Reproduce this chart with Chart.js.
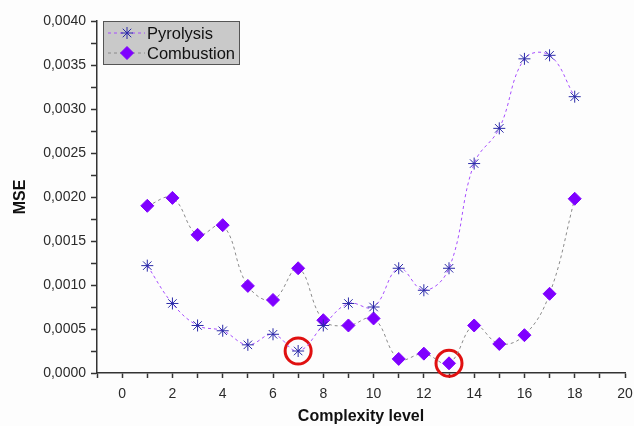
<!DOCTYPE html>
<html>
<head>
<meta charset="utf-8">
<script src="https://cdn.jsdelivr.net/npm/chart.js@4/dist/chart.umd.min.js"></script>
<style>
  html, body { margin: 0; padding: 0; background: #fdfdfd; }
  #wrap { width: 634px; height: 426px; }
</style>
</head>
<body>
<div id="wrap"><canvas id="chart" width="634" height="426"></canvas></div>
<script>
// data
const levels     = [1, 2, 3, 4, 5, 6, 7, 8, 9, 10, 11, 12, 13, 14, 15, 16, 17, 18];
const pyrolysis  = [0.00122, 0.00079, 0.00054, 0.00048, 0.00032, 0.00044, 0.00025, 0.00054, 0.00079,
                    0.00075, 0.00119, 0.00094, 0.00119, 0.00238, 0.00278, 0.00357, 0.00361, 0.00314];
const combustion = [0.00190, 0.00199, 0.00157, 0.00168, 0.00099, 0.00083, 0.00119, 0.00060, 0.00054,
                    0.00062, 0.00016, 0.00022, 0.00011, 0.00054, 0.00033, 0.00043, 0.00090, 0.00198];
// circled minima: [series, level]
const circled    = [['Pyrolysis', 7], ['Combustion', 13]];

const seriesByName = { Pyrolysis: pyrolysis, Combustion: combustion };
const toPoints = (arr) => levels.map((x, i) => ({ x, y: arr[i] }));

const FONT = '"Liberation Sans", Arial, sans-serif';
const TEXT = '#2b2b2b';
const AXIS = '#333';

// legend drawn inside the plot, Origin style
const insideLegend = {
  id: 'insideLegend',
  afterDraw(chart) {
    const { ctx, chartArea } = chart;
    const x0 = chartArea.left + 6, y0 = chartArea.top;
    const w = 136, h = 43;
    ctx.save();
    ctx.fillStyle = '#c9c9c9';
    ctx.fillRect(x0, y0, w, h);
    ctx.strokeStyle = '#555';
    ctx.lineWidth = 1;
    ctx.strokeRect(x0 + 0.5, y0 + 0.5, w, h);

    [0, 1].forEach((di, row) => {
      const ds = chart.data.datasets[di];
      const cy = y0 + 12 + row * 20;
      ctx.strokeStyle = ds.borderColor;
      ctx.lineWidth = 1;
      ctx.setLineDash(ds.borderDash);
      ctx.beginPath();
      ctx.moveTo(x0 + 5, cy);
      ctx.lineTo(x0 + 42, cy);
      ctx.stroke();
      ctx.setLineDash([]);
      ctx.fillStyle = ds.pointBackgroundColor;
      ctx.strokeStyle = ds.pointBorderColor;
      ctx.lineWidth = ds.pointBorderWidth;
      Chart.helpers.drawPoint(ctx, {
        pointStyle: ds.pointStyle, radius: ds.pointRadius, rotation: 0, borderWidth: ds.pointBorderWidth,
      }, x0 + 24, cy);
      ctx.fillStyle = '#111';
      ctx.font = '16.5px ' + FONT;
      ctx.textBaseline = 'middle';
      ctx.fillText(ds.label, x0 + 44, cy + 1);
    });
    ctx.restore();
  },
};

new Chart(document.getElementById('chart'), {
  type: 'line',
  data: {
    datasets: [
      {
        label: 'Pyrolysis',
        data: toPoints(pyrolysis),
        borderColor: '#a64dff',
        borderWidth: 1,
        borderDash: [3, 3],
        tension: 0.4,
        pointStyle: 'star',
        pointRadius: 6,
        pointBorderWidth: 1,
        pointBorderColor: '#2a2aa8',
        pointBackgroundColor: '#2a2aa8',
      },
      {
        label: 'Combustion',
        data: toPoints(combustion),
        borderColor: '#8a8a8a',
        borderWidth: 1,
        borderDash: [3, 3],
        tension: 0.4,
        pointStyle: 'rectRot',
        pointRadius: 6.5,
        pointBorderWidth: 1,
        pointBorderColor: '#7f00ff',
        pointBackgroundColor: '#7f00ff',
      },
      {
        label: 'circled',
        data: circled.map(([name, lv]) => ({ x: lv, y: seriesByName[name][levels.indexOf(lv)] })),
        showLine: false,
        clip: false,
        pointStyle: 'circle',
        pointRadius: 13,
        pointBorderWidth: 3,
        pointBorderColor: '#e01010',
        pointBackgroundColor: 'rgba(0,0,0,0)',
      },
    ],
  },
  options: {
    responsive: false,
    animation: false,
    layout: { autoPadding: false, padding: { left: 8, right: 0, top: 21, bottom: 0 } },
    plugins: {
      legend: { display: false },
      tooltip: { enabled: false },
    },
    scales: {
      x: {
        type: 'linear',
        min: -1,
        max: 20,
        afterFit: (s) => { s.height = 53; s.paddingRight = 9; },
        ticks: {
          stepSize: 1,
          autoSkip: false,
          maxRotation: 0,
          padding: 8,
          color: TEXT,
          font: { family: FONT, size: 14 },
          callback: (v) => (v >= 0 && v % 2 === 0 ? String(v) : ''),
        },
        grid: { drawOnChartArea: false, tickLength: 5, tickColor: AXIS, tickWidth: 1.5 },
        border: { color: AXIS, width: 1.5 },
        title: {
          display: true,
          text: 'Complexity level',
          color: '#111',
          font: { family: FONT, size: 16, weight: 'bold' },
          padding: { top: 4, bottom: 0 },
        },
      },
      y: {
        min: 0,
        max: 0.004,
        afterFit: (s) => { s.width = 89; },
        ticks: {
          stepSize: 0.00025,
          autoSkip: false,
          padding: 5,
          color: TEXT,
          font: { family: FONT, size: 14 },
          callback: (v) => {
            const i = Math.round(v / 0.00025);
            return i % 2 === 0 ? (i * 0.00025).toFixed(4).replace('.', ',') : '';
          },
        },
        grid: { drawOnChartArea: false, tickLength: 6, tickColor: AXIS, tickWidth: 1.5 },
        border: { color: AXIS, width: 1.5 },
        title: {
          display: true,
          text: 'MSE',
          color: '#111',
          font: { family: FONT, size: 16, weight: 'bold' },
          padding: { top: 3, bottom: 2 },
        },
      },
    },
  },
  plugins: [insideLegend],
});
</script>
</body>
</html>
